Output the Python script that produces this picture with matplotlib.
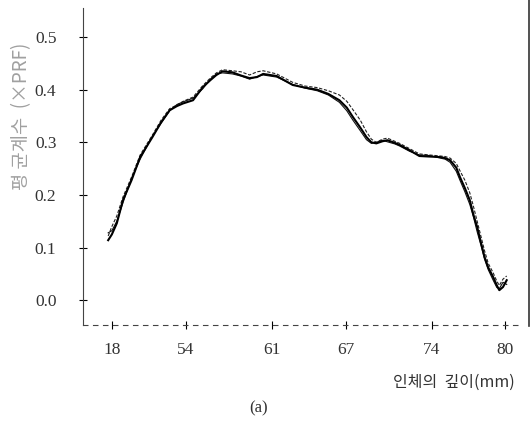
import numpy as np
from matplotlib import pyplot as plt
from matplotlib.lines import Line2D

# depth (mm) and three repeated count-rate traces
depth = [47.7, 48.0, 48.4, 48.9, 49.6, 50.3, 51.3, 52.0, 52.7, 53.3,
         53.8, 54.6, 55.4, 56.0, 56.5, 57.0, 57.8, 58.5, 59.2, 59.8,
         60.3, 61.4, 62.7, 63.7, 64.7, 65.6, 66.5, 67.1, 67.6, 68.2,
         68.7, 69.1, 69.5, 70.0, 70.4, 71.0, 71.4, 72.2, 73.0, 73.8,
         74.7, 75.1, 75.5, 76.0, 76.3, 76.7, 77.1, 77.4, 77.7, 78.0,
         78.3, 78.6, 79.0, 79.3, 79.5, 79.8, 80.1]

run1 = [0.114, 0.125, 0.146, 0.190, 0.228, 0.272, 0.310, 0.338, 0.361, 0.369,
        0.374, 0.380, 0.405, 0.418, 0.428, 0.435, 0.433, 0.427, 0.422, 0.424,
        0.430, 0.426, 0.409, 0.404, 0.400, 0.392, 0.380, 0.366, 0.348, 0.328,
        0.310, 0.300, 0.298, 0.302, 0.304, 0.299, 0.295, 0.285, 0.274, 0.273,
        0.272, 0.270, 0.266, 0.252, 0.234, 0.213, 0.190, 0.162, 0.139, 0.110,
        0.082, 0.062, 0.044, 0.028, 0.019, 0.025, 0.038]

run2 = [0.128, 0.132, 0.150, 0.185, 0.232, 0.268, 0.312, 0.336, 0.360, 0.372,
        0.377, 0.384, 0.402, 0.420, 0.430, 0.432, 0.430, 0.426, 0.420, 0.425,
        0.428, 0.424, 0.410, 0.403, 0.398, 0.390, 0.376, 0.360, 0.342, 0.322,
        0.305, 0.298, 0.300, 0.304, 0.301, 0.297, 0.293, 0.283, 0.276, 0.275,
        0.270, 0.268, 0.262, 0.245, 0.228, 0.206, 0.182, 0.158, 0.130, 0.105,
        0.078, 0.058, 0.038, 0.024, 0.022, 0.034, 0.030]

run3 = [0.122, 0.140, 0.160, 0.196, 0.234, 0.276, 0.314, 0.342, 0.364, 0.371,
        0.378, 0.386, 0.408, 0.422, 0.432, 0.438, 0.436, 0.434, 0.428, 0.434,
        0.436, 0.430, 0.414, 0.407, 0.404, 0.398, 0.390, 0.378, 0.362, 0.342,
        0.320, 0.306, 0.300, 0.306, 0.308, 0.302, 0.298, 0.288, 0.278, 0.276,
        0.274, 0.273, 0.270, 0.260, 0.246, 0.228, 0.204, 0.178, 0.150, 0.122,
        0.094, 0.070, 0.052, 0.036, 0.028, 0.040, 0.046]

xticks = [48, 54, 61, 67, 74, 80]
xticklabels = ["18", "54", "61", "67", "74", "80"]
yticks = [0.0, 0.1, 0.2, 0.3, 0.4, 0.5]

serif = ["Liberation Serif", "DejaVu Serif"]
kr = ["Noto Sans CJK KR", "DejaVu Sans"]

fig = plt.figure(figsize=(5.31, 4.29), dpi=100)
ax = fig.add_axes([0.156, 0.242, 0.823, 0.739])

ax.plot(depth, run3, color="#222222", lw=0.8, ls=(0, (3, 1.5)))
ax.plot(depth, run2, color="#111111", lw=0.8)
ax.plot(depth, run1, color="black", lw=1.5)

ax.set_xlim(45.64, 81.17)
ax.set_ylim(-0.0475, 0.555)

ax.set_xticks(xticks)
ax.set_xticklabels(xticklabels, fontfamily=serif, fontsize=12.5, color="#333333")
ax.set_yticks(yticks)
ax.set_yticklabels(["%.1f" % v for v in yticks], fontfamily=serif,
                   fontsize=12.5, color="#333333")
ax.tick_params(axis="x", direction="inout", length=6, width=0.8, pad=9)
ax.tick_params(axis="y", direction="inout", length=6, width=0.8, pad=16)

for side in ["top", "right"]:
    ax.spines[side].set_visible(False)
ax.spines["left"].set_color("#444444")
ax.spines["left"].set_linewidth(0.8)
ax.spines["bottom"].set_color("#444444")
ax.spines["bottom"].set_linewidth(0.8)
ax.spines["bottom"].set_linestyle((0, (4, 5)))

ax.set_ylabel("평 균계수  (×PRF)", fontfamily=kr, fontsize=13.5, color="#a0a0a0")
ax.yaxis.set_label_coords(-0.115, 0.66)

fig.text(0.855, 0.108, "인체의  깊이(mm)", fontfamily=kr, fontsize=11.5,
         color="#333333", ha="center", va="center")
fig.text(0.486, 0.048, "(a)", fontfamily=serif, fontsize=12,
         color="#333333", ha="center", va="center")

# page edge line at the right
fig.add_artist(Line2D([0.996, 0.996], [0.24, 1.0], transform=fig.transFigure,
                      color="#333333", lw=1.2))

fig.savefig("out.png", dpi=100)
